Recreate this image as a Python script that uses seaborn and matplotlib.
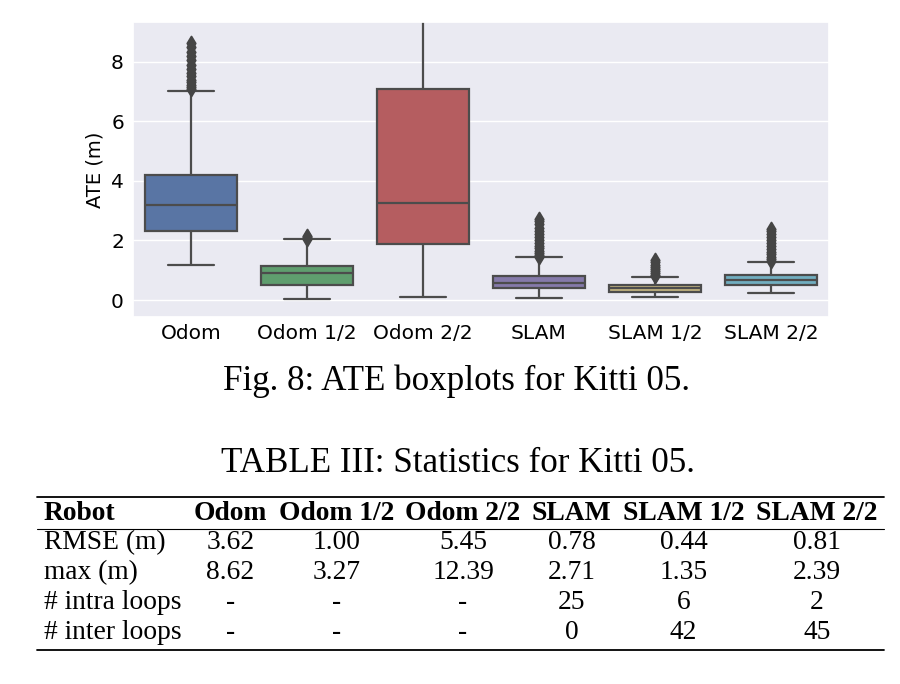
import pandas as pd
import seaborn as sns
import matplotlib
matplotlib.use("Agg")
import matplotlib.pyplot as plt
from matplotlib.lines import Line2D

# five-number summaries
robots = ["Odom", "Odom 1/2", "Odom 2/2", "SLAM", "SLAM 1/2", "SLAM 2/2"]
whis_lo = [1.17, 0.02, 0.11, 0.08, 0.09, 0.25]
q1 = [2.31, 0.50, 1.87, 0.41, 0.28, 0.50]
med = [3.19, 0.92, 3.27, 0.58, 0.39, 0.67]
q3 = [4.20, 1.14, 7.08, 0.82, 0.50, 0.84]
whis_hi = [7.03, 2.04, 12.39, 1.43, 0.76, 1.29]

# outlier streaks above the whiskers
fliers = {
    "Odom": [7.08, 7.14, 7.21, 7.3, 7.4, 7.51, 7.63, 7.76, 7.9, 8.04, 8.19, 8.33, 8.48, 8.62],
    "Odom 1/2": [2.06, 2.1, 2.14],
    "SLAM": [1.46, 1.52, 1.58, 1.65, 1.73, 1.81, 1.9, 2.0, 2.1, 2.2, 2.31, 2.42, 2.54, 2.64, 2.71],
    "SLAM 1/2": [0.79, 0.84, 0.9, 0.96, 1.03, 1.1, 1.18, 1.27, 1.35],
    "SLAM 2/2": [1.32, 1.38, 1.45, 1.53, 1.61, 1.7, 1.8, 1.9, 2.0, 2.1, 2.2, 2.3, 2.39],
}

# old seaborn "deep" colours
colors = ["#4C72B0", "#55A868", "#C44E52", "#8172B2", "#CCB974", "#64B5CD"]

# table III
col_names = ["Robot"] + robots
row_names = ["RMSE (m)", "max (m)", "# intra loops", "# inter loops"]
rmse = ["3.62", "1.00", "5.45", "0.78", "0.44", "0.81"]
max_err = ["8.62", "3.27", "12.39", "2.71", "1.35", "2.39"]
intra_loops = ["-", "-", "-", "25", "6", "2"]
inter_loops = ["-", "-", "-", "0", "42", "45"]

fig_caption = "Fig. 8: ATE boxplots for Kitti 05."
tab_caption = "TABLE III: Statistics for Kitti 05."

rows = []
for i, r in enumerate(robots):
    for v in [whis_lo[i], q1[i], med[i], q3[i], whis_hi[i]]:
        rows.append({"robot": r, "ate": v})
df = pd.DataFrame(rows)

frows = []
for r, vals in fliers.items():
    for v in vals:
        frows.append({"robot": r, "ate": v})
df_fl = pd.DataFrame(frows)

sns.set_theme(style="darkgrid")
plt.rcParams["font.family"] = ["DejaVu Sans"]

W, H = 900, 684
fig = plt.figure(figsize=(9, 6.84), dpi=100)
ax = fig.add_axes([133 / W, 1 - 317 / H, 696 / W, 295 / H])

sns.boxplot(data=df, x="robot", y="ate", hue="robot", order=robots,
            hue_order=robots, palette=colors, legend=False, whis=(0, 100),
            saturation=0.75, linewidth=1.6, ax=ax)
sns.stripplot(data=df_fl, x="robot", y="ate", order=robots, jitter=False,
              marker="d", color="0.27", edgecolor="0.27", size=7,
              linewidth=1.4, ax=ax)

ax.set_ylim(-0.57, 9.33)
ax.set_xlim(-0.5, 5.5)
ax.set_yticks([0, 2, 4, 6, 8])
ax.set_xlabel("")
ax.set_ylabel("ATE (m)", fontsize=14, labelpad=5, color="black")
ax.tick_params(axis="both", labelsize=14.5, colors="black", length=0)
ax.tick_params(axis="x", pad=5)
ax.tick_params(axis="y", pad=6.5)

# captions and table
serif = "Liberation Serif"


def fx(x):
    return x / W


def fy(y):
    return 1 - y / H


fig.text(fx(456.5), fy(390), fig_caption, family=serif, fontsize=25.2,
         ha="center", va="baseline", color="black")
fig.text(fx(457.5), fy(471.5), tab_caption, family=serif, fontsize=25.2,
         ha="center", va="baseline", color="black")

col_x = [44, 230.5, 336.5, 463, 571.5, 683.5, 817]
fs = 19.8
fig.text(fx(col_x[0]), fy(520), col_names[0], family=serif, fontsize=fs,
         fontweight="bold", ha="left", va="baseline", color="black")
for j in range(1, len(col_names)):
    fig.text(fx(col_x[j]), fy(520), col_names[j], family=serif, fontsize=fs,
             fontweight="bold", ha="center", va="baseline", color="black")

body = [rmse, max_err, intra_loops, inter_loops]
row_y = [549, 579, 609, 639]
for i, vals in enumerate(body):
    fig.text(fx(col_x[0]), fy(row_y[i]), row_names[i], family=serif,
             fontsize=fs, ha="left", va="baseline", color="black")
    for j, v in enumerate(vals):
        fig.text(fx(col_x[j + 1]), fy(row_y[i]), v, family=serif,
                 fontsize=fs, ha="center", va="baseline", color="black")

for y, lw in [(497, 1.3), (528.5, 0.8), (649.5, 1.3)]:
    fig.add_artist(Line2D([fx(37), fx(884)], [fy(y), fy(y)],
                          transform=fig.transFigure, color="black", lw=lw))

fig.savefig("out.png", dpi=100)
